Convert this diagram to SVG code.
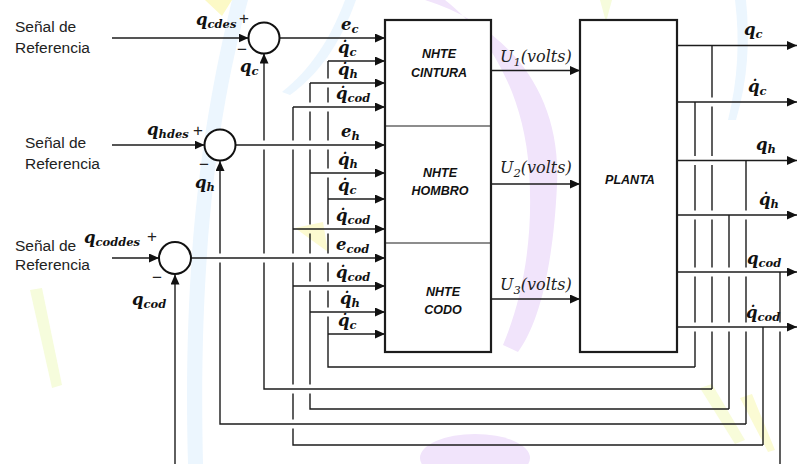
<svg xmlns="http://www.w3.org/2000/svg" width="802" height="464" viewBox="0 0 802 464">
<defs>
<marker id="ah" markerUnits="userSpaceOnUse" markerWidth="11" markerHeight="9" refX="10" refY="4.5" orient="auto">
<path d="M0,0 L10,4.5 L0,9 Z" fill="#111"/>
</marker>
<style>
.ln{fill:none;stroke:#1c1c1c;stroke-width:1.4}
.ar{fill:none;stroke:#1c1c1c;stroke-width:1.4;marker-end:url(#ah)}
.box{fill:#fff;stroke:#1c1c1c;stroke-width:2.2}
.sum{fill:#fff;stroke:#111;stroke-width:2}
.div{stroke:#1c1c1c;stroke-width:1.2}
.sig{font-family:"Liberation Sans",Arial,sans-serif;font-size:15.5px;fill:#222}
.m{font-family:"DejaVu Serif",serif;font-weight:bold;font-style:italic;font-size:16.5px;fill:#111}
.s{font-size:11.5px}
.u{font-family:"DejaVu Serif",serif;font-style:italic;font-size:16px;fill:#222}
.bl{font-family:"Liberation Sans",Arial,sans-serif;font-weight:bold;font-style:italic;font-size:12.5px;fill:#111;text-anchor:middle}
.pm{font-family:"Liberation Sans",Arial,sans-serif;font-size:17px;fill:#222}
</style>
</defs>
<rect width="802" height="464" fill="#fff"/>
<g id="watermark">
<path d="M425,0 C505,25 562,90 557,185 C553,270 538,325 518,352 L503,345 C522,300 534,240 529,170 C524,95 490,35 445,0 Z" fill="#f1e4fb"/>
<ellipse cx="475" cy="458" rx="55" ry="24" fill="#f1e4fb"/>
<path d="M232,0 C205,110 182,250 188,464 L203,464 C198,250 218,110 248,0 Z" fill="#ecf6fe"/>
<path d="M345,0 C330,40 310,70 282,92 L290,95 C318,75 340,45 356,0 Z" fill="#ecf6fe"/>
<path d="M735,0 C740,40 738,80 728,120 L736,120 C748,80 750,40 746,0 Z" fill="#ecf6fe"/>
<path d="M205,0 L232,0 L222,16 Z" fill="#fcf9c6"/>
<path d="M295,228 L323,222 L328,252 Z" fill="#fcfad0"/>
<path d="M30,290 L42,288 L62,385 L52,388 Z" fill="#f6fcdc"/>
<path d="M700,388 L712,384 L745,440 L735,444 Z" fill="#f8fcda"/>
<path d="M740,398 L752,394 L775,450 L768,452 Z" fill="#fbfbd4"/>
<path d="M600,0 L612,0 L606,22 Z" fill="#f6fcdc"/>
</g>
<g id="connectors">
<line class="ar" x1="112" y1="38" x2="248.5" y2="38"/>
<line class="ar" x1="112" y1="145" x2="204.5" y2="145"/>
<line class="ar" x1="112" y1="258" x2="159" y2="258"/>
<line class="ar" x1="279.5" y1="38" x2="385" y2="38"/>
<line class="ar" x1="235.5" y1="145" x2="385" y2="145"/>
<line class="ar" x1="191" y1="258" x2="385" y2="258"/>
<path class="ar" d="M328,61 H385"/>
<path class="ar" d="M310,83 H385"/>
<path class="ar" d="M293,107 H385"/>
<path class="ar" d="M310,173 H385"/>
<path class="ar" d="M328,199 H385"/>
<path class="ar" d="M293,229 H385"/>
<path class="ar" d="M293,286 H385"/>
<path class="ar" d="M310,312 H385"/>
<path class="ar" d="M328,334 H385"/>
<path class="ln" d="M328,61 V78.5 M328,87.5 V102.5 M328,111.5 V140.5 M328,149.5 V168.5 M328,177.5 V224.5 M328,233.5 V253.5 M328,262.5 V281.5 M328,290.5 V307.5 M328,316.5 V367 H695"/>
<path class="ln" d="M310,83 V102.5 M310,111.5 V140.5 M310,149.5 V224.5 M310,233.5 V253.5 M310,262.5 V281.5 M310,290.5 V384.5 M310,393.5 V409 H729"/>
<path class="ln" d="M293,107 V140.5 M293,149.5 V253.5 M293,262.5 V384.5 M293,393.5 V419.5 M293,428.5 V445 H763"/>
<path class="ar" d="M712,389 H264 V262.5 M264,253.5 V149.5 M264,140.5 V53.5"/>
<path class="ar" d="M746,424 H220 V262.5 M220,253.5 V161"/>
<path class="ar" d="M175,464 V274.5"/>
<line class="ar" x1="491" y1="70.5" x2="580" y2="70.5"/>
<line class="ar" x1="491" y1="184" x2="580" y2="184"/>
<line class="ar" x1="491" y1="299" x2="580" y2="299"/>
<line class="ar" x1="677" y1="45.5" x2="797" y2="45.5"/>
<line class="ar" x1="677" y1="102" x2="797" y2="102"/>
<line class="ar" x1="677" y1="160.5" x2="797" y2="160.5"/>
<line class="ar" x1="677" y1="215" x2="797" y2="215"/>
<line class="ar" x1="677" y1="272" x2="797" y2="272"/>
<line class="ar" x1="677" y1="327" x2="797" y2="327"/>
<path class="ln" d="M695,102 V156 M695,165 V210.5 M695,219.5 V267.5 M695,276.5 V322.5 M695,331.5 V367"/>
<path class="ln" d="M712,45.5 V97.5 M712,106.5 V156 M712,165 V210.5 M712,219.5 V267.5 M712,276.5 V322.5 M712,331.5 V389"/>
<path class="ln" d="M729,215 V267.5 M729,276.5 V322.5 M729,331.5 V409"/>
<path class="ln" d="M746,160.5 V210.5 M746,219.5 V267.5 M746,276.5 V322.5 M746,331.5 V424"/>
<path class="ln" d="M763,327 V445"/>
<path class="ln" d="M780,272 V322.5 M780,331.5 V464"/>
</g>
<g id="sum_c">
<circle class="sum" cx="264" cy="38" r="15.5"/>
<text class="m" x="196" y="25">q<tspan class="s" dy="3">cdes</tspan></text>
<text class="pm" x="239" y="24">+</text>
<text class="pm" x="237" y="55">−</text>
<text class="m" x="240" y="72">q<tspan class="s" dy="3">c</tspan></text>
</g>
<g id="sum_h">
<circle class="sum" cx="220" cy="145" r="15.5"/>
<text class="m" x="147" y="135">q<tspan class="s" dy="3">hdes</tspan></text>
<text class="pm" x="193" y="136">+</text>
<text class="pm" x="199" y="170">−</text>
<text class="m" x="195" y="188">q<tspan class="s" dy="3">h</tspan></text>
</g>
<g id="sum_cod">
<circle class="sum" cx="175" cy="258" r="16"/>
<text class="m" x="84" y="243">q<tspan class="s" dy="3">coddes</tspan></text>
<text class="pm" x="147" y="242">+</text>
<text class="pm" x="152" y="283">−</text>
<text class="m" x="132" y="305">q<tspan class="s" dy="3">cod</tspan></text>
</g>
<g id="ref_labels">
<text class="sig" x="15" y="32">Señal de</text>
<text class="sig" x="15" y="53">Referencia</text>
<text class="sig" x="25" y="148">Señal de</text>
<text class="sig" x="25" y="169">Referencia</text>
<text class="sig" x="15" y="251">Señal de</text>
<text class="sig" x="15" y="270">Referencia</text>
</g>
<g id="input_labels">
<text class="m" x="341" y="30">e<tspan class="s" dy="3">c</tspan></text>
<text class="m" x="338" y="53">q̇<tspan class="s" dy="3">c</tspan></text>
<text class="m" x="338" y="75">q̇<tspan class="s" dy="3">h</tspan></text>
<text class="m" x="336" y="99">q̇<tspan class="s" dy="3">cod</tspan></text>
<text class="m" x="341" y="137">e<tspan class="s" dy="3">h</tspan></text>
<text class="m" x="338" y="165">q̇<tspan class="s" dy="3">h</tspan></text>
<text class="m" x="338" y="191">q̇<tspan class="s" dy="3">c</tspan></text>
<text class="m" x="336" y="221">q̇<tspan class="s" dy="3">cod</tspan></text>
<text class="m" x="336" y="250">e<tspan class="s" dy="3">cod</tspan></text>
<text class="m" x="336" y="278">q̇<tspan class="s" dy="3">cod</tspan></text>
<text class="m" x="340" y="304">q̇<tspan class="s" dy="3">h</tspan></text>
<text class="m" x="338" y="326">q̇<tspan class="s" dy="3">c</tspan></text>
</g>
<g id="nhte">
<rect class="box" x="385" y="20" width="106" height="332"/>
<line class="div" x1="385" y1="126" x2="492" y2="126"/>
<line class="div" x1="385" y1="243" x2="492" y2="243"/>
<text class="bl" x="439" y="58">NHTE</text>
<text class="bl" x="439" y="77">CINTURA</text>
<text class="bl" x="440" y="177">NHTE</text>
<text class="bl" x="440" y="195">HOMBRO</text>
<text class="bl" x="443" y="296">NHTE</text>
<text class="bl" x="443" y="314">CODO</text>
</g>
<g id="u_labels">
<text class="u" x="500" y="62">U<tspan font-size="11.5" dy="4">1</tspan><tspan dy="-4">(volts)</tspan></text>
<text class="u" x="500" y="173">U<tspan font-size="11.5" dy="4">2</tspan><tspan dy="-4">(volts)</tspan></text>
<text class="u" x="500" y="290">U<tspan font-size="11.5" dy="4">3</tspan><tspan dy="-4">(volts)</tspan></text>
</g>
<g id="planta">
<rect class="box" x="580" y="20" width="97" height="332"/>
<text class="bl" x="630" y="184">PLANTA</text>
</g>
<g id="output_labels">
<text class="m" x="744" y="35">q<tspan class="s" dy="3">c</tspan></text>
<text class="m" x="748" y="92">q̇<tspan class="s" dy="3">c</tspan></text>
<text class="m" x="756" y="150">q<tspan class="s" dy="3">h</tspan></text>
<text class="m" x="759" y="205">q̇<tspan class="s" dy="3">h</tspan></text>
<text class="m" x="747" y="264">q<tspan class="s" dy="3">cod</tspan></text>
<text class="m" x="746" y="318">q̇<tspan class="s" dy="3">cod</tspan></text>
</g>
</svg>
